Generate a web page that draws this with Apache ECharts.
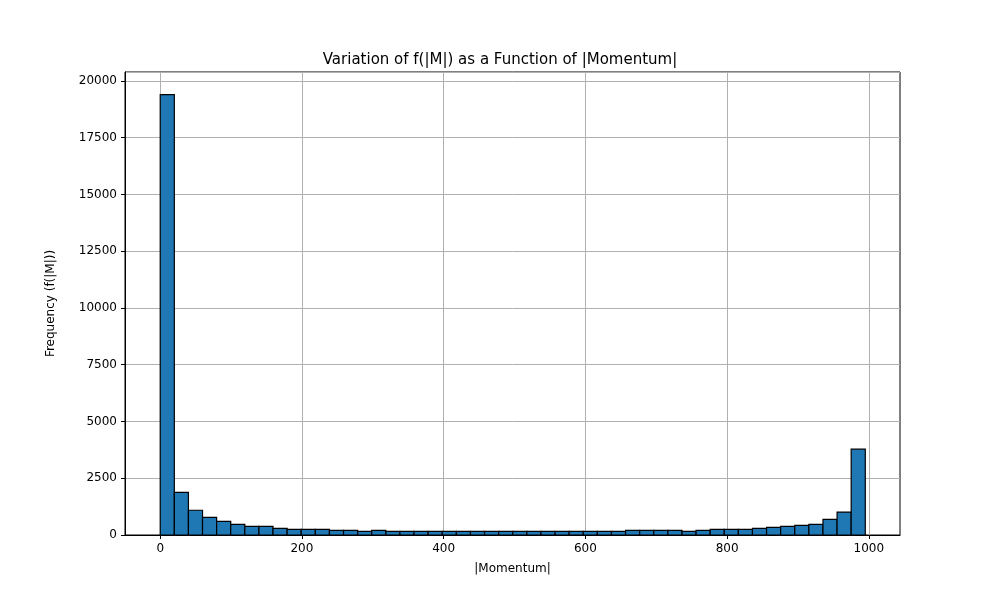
<!DOCTYPE html><html><head><meta charset="utf-8"><script src="https://cdn.jsdelivr.net/npm/echarts@6/dist/echarts.min.js"></script></head><body style="margin:0"><div id="c" style="width:1000px;height:600px"></div><script>
const binStart = 0, binWidth = 19.9;
const counts = [19400,1880,1090,780,600,470,380,380,295,250,250,250,205,205,160,205,
160,160,160,160,160,160,160,160,160,
160,160,160,160,160,160,160,160,
205,205,205,205,160,205,250,250,250,295,340,380,425,470,690,1010,3780];
const xTicks = [0,200,400,600,800,1000];
const data = counts.map((v,i)=>[binStart+i*binWidth, binStart+(i+1)*binWidth, v]);
const chart = echarts.init(document.getElementById('c'));
chart.setOption({
  animation:false,
  textStyle:{fontFamily:'DejaVu Sans'},
  title:{text:'Variation of f(|M|) as a Function of |Momentum|',left:'center',top:48,textStyle:{fontSize:15,fontWeight:'normal',color:'#000',fontFamily:'DejaVu Sans'}},
  grid:{left:125,right:100,top:72,bottom:65,show:true,borderColor:'#000',borderWidth:1},
  xAxis:{type:'value',min:-49.7,max:1044,name:'|Momentum|',nameLocation:'middle',nameGap:28,nameTextStyle:{color:'#000',fontSize:12},
    axisLine:{onZero:false,lineStyle:{color:'#000'}},splitLine:{show:false},
    axisTick:{customValues:xTicks,lineStyle:{color:'#000'},length:4},
    axisLabel:{customValues:xTicks,color:'#000',fontSize:12,margin:8,formatter:v=>String(v)}},
  yAxis:{type:'value',min:0,max:20395,interval:2500,name:'Frequency (f(|M|))',nameLocation:'middle',nameGap:68,nameTextStyle:{color:'#000',fontSize:12},
    axisLine:{show:true,onZero:false,lineStyle:{color:'#000'}},axisTick:{show:true,length:4,lineStyle:{color:'#000'}},
    axisLabel:{color:'#000',fontSize:12,showMaxLabel:false,formatter:v=>String(v)},
    splitLine:{lineStyle:{color:'#b0b0b0',width:1}}},
  series:[{type:'custom',data:data,encode:{x:[0,1],y:2},z:2,
    renderItem:(p,api)=>{const a=api.coord([api.value(0),api.value(2)]);const b=api.coord([api.value(1),0]);
      return {type:'rect',shape:{x:a[0],y:a[1],width:b[0]-a[0],height:b[1]-a[1]},style:{fill:'#1f77b4',stroke:'#000',lineWidth:1.2}};},
    markLine:{silent:true,symbol:'none',label:{show:false},z:1,lineStyle:{color:'#b0b0b0',type:'solid',width:1},data:xTicks.map(x=>({xAxis:x}))}
  }]
});
</script></body></html>
